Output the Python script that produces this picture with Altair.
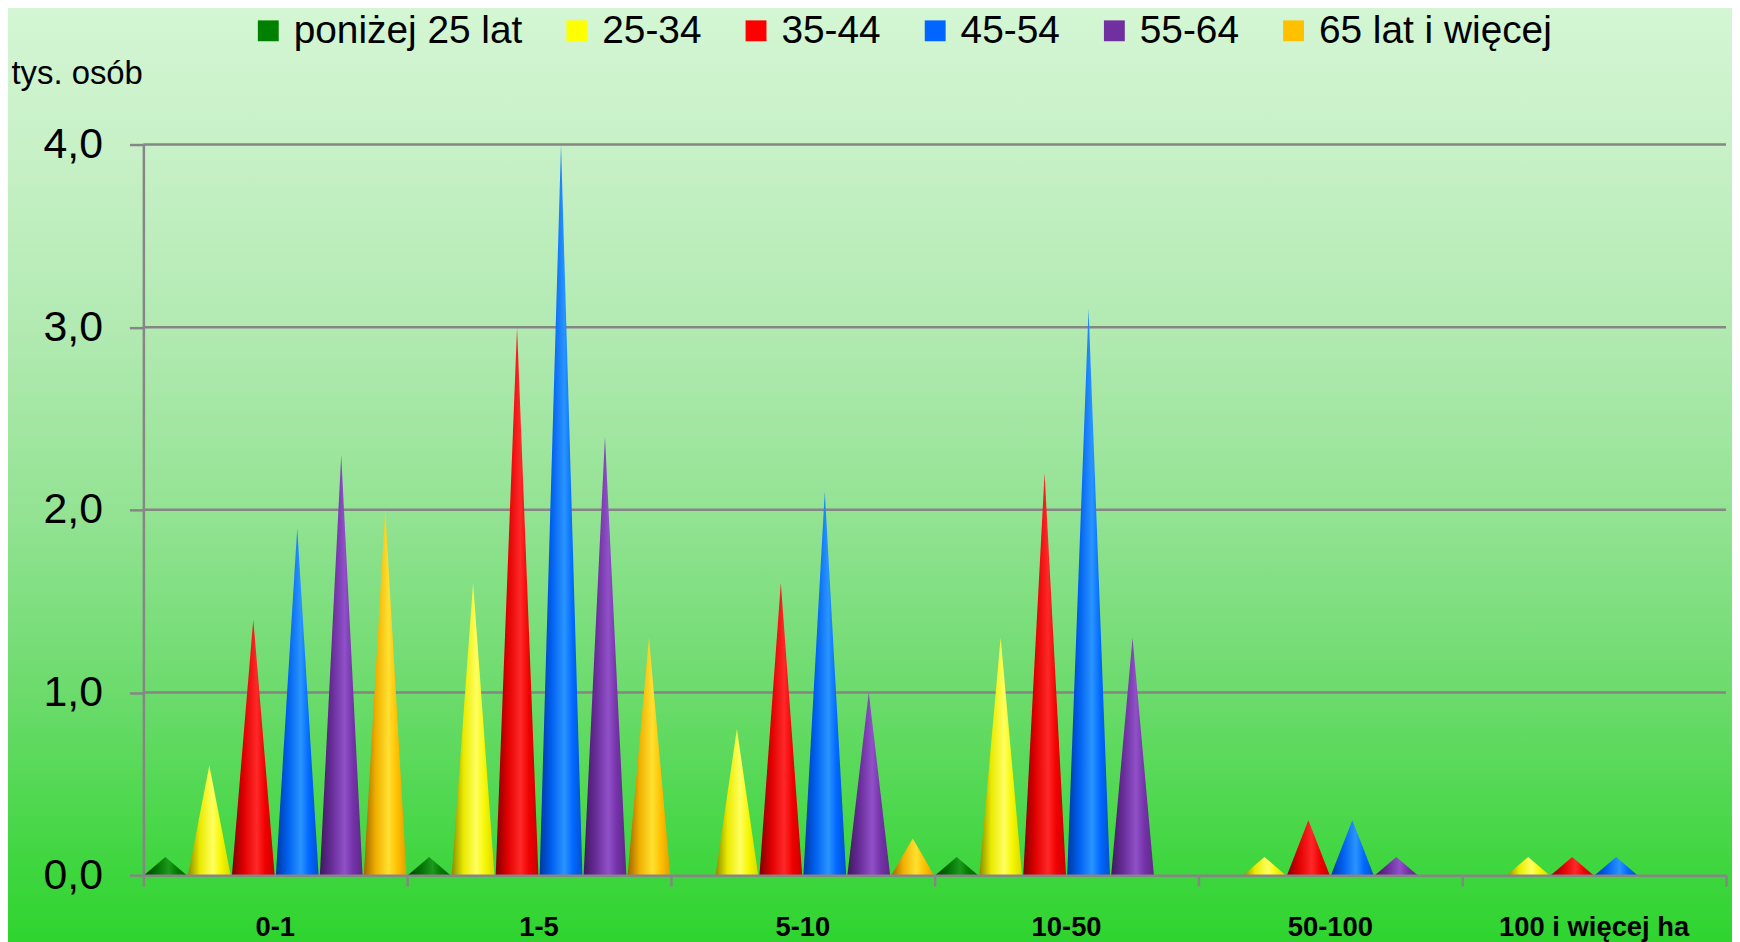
import altair as alt
import pandas as pd

# ---------------- data ----------------
categories = ["0-1", "1-5", "5-10", "10-50", "50-100", "100 i więcej ha"]
series = ["poniżej 25 lat", "25-34", "35-44", "45-54", "55-64", "65 lat i więcej"]
v_below25 = [0.1, 0.1, 0.0, 0.1, 0.0, 0.0]
v_25_34 = [0.6, 1.6, 0.8, 1.3, 0.1, 0.1]
v_35_44 = [1.4, 3.0, 1.6, 2.2, 0.3, 0.1]
v_45_54 = [1.9, 4.0, 2.1, 3.1, 0.3, 0.1]
v_55_64 = [2.3, 2.4, 1.0, 1.3, 0.1, 0.0]
v_65plus = [2.0, 1.3, 0.2, 0.0, 0.0, 0.0]
y_ticks = [0, 1, 2, 3, 4]
grid_values = [1, 2, 3, 4]

values = [v_below25, v_25_34, v_35_44, v_45_54, v_55_64, v_65plus]

# ---------------- styles ----------------
colors = ["#008000", "#FFFF00", "#FF0000", "#0066FF", "#7030A0", "#FFC000"]
shades = [
    ["#003f00", "#006e00", "#1c9a1c", "#007800", "#006000"],
    ["#8c8c00", "#eaea00", "#ffff60", "#f6f600", "#d8d800"],
    ["#800000", "#e00000", "#ff2828", "#f00000", "#c80000"],
    ["#0038a0", "#0060f0", "#2a94ff", "#0068ff", "#0050d0"],
    ["#3e1a5e", "#682c98", "#9050c8", "#7432a8", "#5e2888"],
    ["#a06600", "#f0b000", "#ffe030", "#ffc000", "#e0a000"],
]
FONT = "Liberation Sans, Arial, Open Sans, sans-serif"
GRAY = "#868686"

W, H = 1590, 734
PAD = {"left": 136, "top": 135, "right": 6, "bottom": 65}
HW = 0.081  # half base width of a cone in category units

# ---------------- tables ----------------
rows = []
for j, s in enumerate(series):
    for i, c in enumerate(categories):
        v = values[j][i]
        if v <= 0:
            continue
        for pt in (-1, 0, 1):
            rows.append({"series": s, "sj": j, "ci": i, "cat": c,
                         "value": v, "pt": pt, "cid": f"c{j}_{i}"})
cones = pd.DataFrame(rows)
cat_df = pd.DataFrame({"cat": categories, "ci": list(range(len(categories)))})
ser_df = pd.DataFrame({"series": series})
grid_df = pd.DataFrame({"g": grid_values})
one_df = pd.DataFrame({"a": [0]})

x_scale = alt.Scale(domain=[0, len(categories)], nice=False, zero=False)
y_scale = alt.Scale(domain=[0, 4], nice=False)

x_axis = alt.Axis(values=list(range(len(categories) + 1)), labels=False, title=None,
                  grid=False, domainColor=GRAY, domainWidth=2.5, tickColor=GRAY,
                  tickWidth=2.5, tickSize=11, zindex=1)
y_axis = alt.Axis(values=y_ticks, grid=False, domainColor=GRAY, domainWidth=2.5,
                  tickColor=GRAY, tickWidth=2.5, tickSize=14, labelPadding=27,
                  labelFont=FONT, labelFontSize=43, labelColor="black",
                  labelExpr="replace(format(datum.value, '.1f'), '.', ',')",
                  title="tys. osób", titleAngle=0, titleAlign="left",
                  titleBaseline="alphabetic", titleX=-133, titleY=-61,
                  titleFont=FONT, titleFontSize=33, titleFontWeight="normal",
                  titleColor="black", zindex=1)

# background gradient covering the whole chart
bg = alt.Chart(one_df).mark_rect(
    color=alt.Gradient(
        gradient="linear", x1=0, x2=0, y1=0, y2=1,
        stops=[
            alt.GradientStop(color="#d4f6d4", offset=0),
            alt.GradientStop(color="#c8f1c8", offset=0.15),
            alt.GradientStop(color="#b2eab2", offset=0.345),
            alt.GradientStop(color="#94e394", offset=0.535),
            alt.GradientStop(color="#6cdb6c", offset=0.73),
            alt.GradientStop(color="#3ed63e", offset=0.915),
            alt.GradientStop(color="#2dd42d", offset=1),
        ],
    )
).encode(
    x=alt.value(-PAD["left"] - 10), x2=alt.value(W + PAD["right"] + 10),
    y=alt.value(-PAD["top"] - 10), y2=alt.value(H + PAD["bottom"] + 10),
)

grid = alt.Chart(grid_df).mark_rule(color=GRAY, strokeWidth=2.5).encode(
    y=alt.Y("g:Q", scale=y_scale, axis=y_axis)
)

layers = [bg, grid]
for j, s in enumerate(series):
    st = shades[j]
    grad = alt.Gradient(
        gradient="linear", x1=0, x2=1, y1=0, y2=0,
        stops=[
            alt.GradientStop(color=st[0], offset=0),
            alt.GradientStop(color=st[1], offset=0.28),
            alt.GradientStop(color=st[2], offset=0.58),
            alt.GradientStop(color=st[3], offset=0.78),
            alt.GradientStop(color=st[4], offset=1),
        ],
    )
    layer = alt.Chart(cones).transform_filter(
        f"datum.sj == {j}"
    ).transform_calculate(
        cx=f"datum.ci + (datum.sj + 0.5) / 6 + datum.pt * {HW}",
        cy="datum.pt == 0 ? datum.value : 0",
    ).mark_area(fill=grad, color=grad, interpolate="linear").encode(
        x=alt.X("cx:Q", scale=x_scale, axis=x_axis),
        y=alt.Y("cy:Q", scale=y_scale, axis=y_axis, stack=None),
        detail="cid:N",
    )
    layers.append(layer)

labels = alt.Chart(cat_df).transform_calculate(
    tx="datum.ci + 0.5"
).mark_text(font=FONT, fontSize=27.5, fontWeight="bold", color="black",
            align="center", baseline="alphabetic").encode(
    x=alt.X("tx:Q", scale=x_scale, axis=x_axis),
    y=alt.value(H + 61),
    text="cat:N",
)
layers.append(labels)

legend_layer = alt.Chart(ser_df).mark_square(opacity=0).encode(
    x=alt.value(0), y=alt.value(0),
    color=alt.Color("series:N", scale=alt.Scale(domain=series, range=colors),
                    legend=alt.Legend(orient="none", legendX=106, legendY=-134,
                                      direction="horizontal", title=None,
                                      symbolType="square", symbolSize=440,
                                      symbolOpacity=1, symbolStrokeWidth=0,
                                      labelFont=FONT, labelFontSize=39,
                                      labelColor="black", labelOffset=6,
                                      labelLimit=0,
                                      columnPadding=35, padding=0)),
)
layers.append(legend_layer)

chart = alt.layer(*layers).properties(
    width=W, height=H,
    autosize=alt.AutoSizeParams(type="none"),
    padding=PAD,
).configure_view(stroke=None).configure(background="#d4f6d4")

chart.save("out.html", embed_options={"renderer": "svg", "actions": False})
